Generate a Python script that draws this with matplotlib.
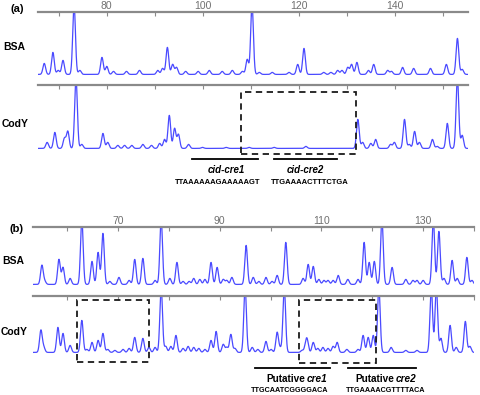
import numpy as np
import matplotlib.pyplot as plt
from matplotlib.patches import Rectangle
from matplotlib import transforms

plt.rcParams['font.family'] = ['Liberation Sans', 'DejaVu Sans']

# panel (a): peak positions (base number) and heights
a_bsa_pos = [67.0, 68.8, 69.9, 70.9, 73.2, 74.4, 79.0, 80.0, 81.4, 84.1, 86.8, 90.6, 91.6, 92.6,
             93.7, 94.5, 96.4, 99.0, 101.3, 104.0, 106.1, 108.2, 109.2, 110.2, 111.7, 114.4,
             117.9, 119.7, 121.0, 125.1, 126.6, 128.0, 128.9, 130.1, 130.9, 132.0, 134.4,
             135.5, 138.4, 139.2, 141.5, 143.8, 147.3, 150.6, 152.9, 153.9]
a_bsa_h = [11, 22, 4, 14, 70, 4, 17, 8, 3, 3, 4, 4, 6, 27,
           10, 7, 3, 3, 4, 3, 4, 3, 15, 70, 2, 2,
           2, 10, 26, 2, 2, 4, 4, 7, 10, 12, 4,
           10, 4, 3, 7, 6, 6, 10, 36, 5]

a_cody_pos = [67.6, 69.2, 71.2, 71.9, 73.6, 74.8, 79.2, 80.2, 82.3, 83.7, 85.2, 87.5, 89.3,
              91.0, 92.0, 93.0, 94.1, 94.9, 97.0, 99.9, 104.8, 109.6, 114.8, 121.4, 132.2,
              133.2, 134.9, 135.9, 139.0, 139.8, 141.9, 142.9, 144.0, 145.0, 147.7, 148.7,
              150.8, 152.9, 153.9]
a_cody_h = [6, 16, 10, 17, 70, 4, 15, 6, 3, 3, 3, 4, 3,
            5, 9, 33, 20, 14, 4, 1, 1, 1, 1, 2, 29,
            6, 5, 9, 4, 6, 29, 4, 17, 6, 9, 2,
            25, 70, 13]

# panel (b)
b_bsa_pos = [55.05, 55.6, 58.4, 59.2, 60.6, 62.9, 64.9, 66.1, 67.05, 68.4, 70.2, 72.2, 73.3,
             74.9, 77.3, 78.5, 80.2, 81.6, 82.8, 84.0, 84.9, 86.1, 87.1, 88.3, 89.5, 90.7,
             91.4, 92.4, 95.2, 96.6, 97.7, 99.1, 100.3, 101.3, 103.0, 106.4, 107.4, 108.4,
             109.5, 110.5, 111.3, 112.3, 113.3, 115.2, 117.2, 118.4, 119.4, 120.4, 121.9,
             123.9, 126.6, 128.0, 128.8, 130.0, 132.0, 133.1, 134.1, 135.7, 136.7, 138.6, 139.6]
b_bsa_h = [19, 3, 25, 17, 6, 65, 23, 32, 51, 3, 7, 4, 25,
           26, 4, 65, 6, 22, 3, 3, 6, 5, 5, 22, 17, 5,
           4, 7, 39, 7, 3, 7, 3, 9, 42, 6, 20, 18,
           5, 4, 4, 4, 9, 5, 5, 42, 22, 23, 65,
           17, 5, 4, 4, 4, 65, 53, 6, 24, 6, 27, 4]

b_cody_pos = [54.85, 55.4, 58.2, 59.2, 60.6, 62.9, 63.9, 64.9, 66.1, 67.05, 68.0, 69.4, 71.0,
              72.2, 73.3, 74.9, 76.1, 77.3, 78.5, 79.4, 80.4, 81.4, 82.8, 83.8, 84.9, 85.9,
              87.1, 88.3, 89.3, 90.7, 91.4, 92.2, 93.0, 95.0, 96.4, 97.5, 99.1, 100.1, 101.3,
              101.9, 102.7, 106.2, 106.9, 107.2, 108.4, 109.3, 110.3, 111.3, 112.3, 113.1,
              115.0, 117.2, 118.2, 119.2, 120.2, 121.3, 123.7, 126.6, 128.8, 131.6, 132.6,
              133.5, 135.3, 136.5, 138.3, 139.2]
b_cody_h = [22, 5, 25, 19, 7, 32, 3, 10, 12, 19, 3, 2, 3,
            4, 15, 14, 5, 5, 65, 6, 6, 17, 4, 6, 5, 4,
            3, 12, 21, 8, 5, 18, 4, 65, 5, 3, 11, 3, 20,
            4, 65, 2, 6, 11, 10, 4, 5, 4, 6, 10,
            3, 3, 17, 15, 17, 65, 5, 2, 2, 65, 65,
            14, 27, 5, 31, 6]

a_major = [80, 100, 120, 140]
a_minor = [70, 90, 110, 130, 150]
b_major = [70, 90, 110, 130]
b_minor = [60, 80, 100, 120, 140]

W, H = 480, 395
fig = plt.figure(figsize=(4.8, 3.95), dpi=100)


def rect(x0, y0, x1, y1):
    return [x0 / W, 1 - y1 / H, (x1 - x0) / W, (y1 - y0) / H]


def trace_ax(r, xlim, ylim, pos, hgt, major, minor, labels, sig):
    ax = fig.add_axes(r)
    ax.patch.set_alpha(0)
    x = np.linspace(xlim[0], xlim[1], 4000)
    y = np.full_like(x, 0.6)
    for p, h in zip(pos, hgt):
        y += h * np.exp(-0.5 * ((x - p) / sig) ** 2)
    ax.plot(x, y, color='#4a4aff', lw=0.9)
    ax.set_xlim(xlim)
    ax.set_ylim(ylim)
    for s in ['left', 'right', 'bottom']:
        ax.spines[s].set_visible(False)
    ax.spines['top'].set_color('#8a8a8a')
    ax.spines['top'].set_linewidth(1.6)
    ax.spines['top'].set_zorder(5)
    ax.xaxis.tick_top()
    ax.set_xticks(major)
    ax.set_xticks(minor, minor=True)
    ax.tick_params(which='both', direction='in', length=3, width=0.8, color='#8a8a8a',
                   labelsize=7.5, labelcolor='#707070', pad=1, labeltop=labels)
    ax.set_yticks([])
    return ax


ax1 = trace_ax(rect(38, 12, 468, 80), (65.7, 155.1), (-5, 63), a_bsa_pos, a_bsa_h,
               a_major, a_minor, True, 0.28)
ax2 = trace_ax(rect(38, 85, 468, 154), (65.7, 155.1), (-5, 64), a_cody_pos, a_cody_h,
               a_major, a_minor, False, 0.28)
ax3 = trace_ax(rect(33, 227, 474, 290), (53.3, 140.0), (-5, 58), b_bsa_pos, b_bsa_h,
               b_major, b_minor, True, 0.26)
ax4 = trace_ax(rect(33, 296, 474, 358), (53.3, 140.0), (-5, 57), b_cody_pos, b_cody_h,
               b_major, b_minor, False, 0.26)


def fy(py):
    return 1 - py / H


def box(ax, x0, x1, y0, y1):
    tr = transforms.blended_transform_factory(ax.transData, fig.transFigure)
    fig.patches.append(Rectangle((x0, fy(y1)), x1 - x0, fy(y0) - fy(y1), transform=tr,
                                 fill=False, ec='#1a1a1a', lw=1.3, ls=(0, (3.5, 2.5)), zorder=6))


def bar(ax, x0, x1, y):
    tr = transforms.blended_transform_factory(ax.transData, fig.transFigure)
    fig.lines.append(plt.Line2D([x0, x1], [fy(y), fy(y)], transform=tr, color='black', lw=1.3))


box(ax2, 107.9, 131.75, 92, 154)
box(ax4, 61.9, 76.1, 300, 362)
box(ax4, 105.6, 120.75, 300, 363)

bar(ax2, 97.8, 111.5, 159)
bar(ax2, 114.8, 127.8, 159)
bar(ax4, 96.9, 111.7, 368)
bar(ax4, 115.2, 128.6, 368)

bold = dict(fontweight='bold', ha='center', va='center')
fig.text(226 / W, fy(170), 'cid-cre1', fontsize=7, style='italic', **bold)
fig.text(218 / W, fy(182), 'TTAAAAAAGAAAAAGT', fontsize=5.5, **bold)
fig.text(305 / W, fy(170), 'cid-cre2', fontsize=7, style='italic', **bold)
fig.text(310 / W, fy(182), 'TTGAAAACTTTCTGA', fontsize=5.5, **bold)

# "Putative" upright + cre italic, split at a point
fig.text(305 / W, fy(379), 'Putative', fontsize=7.2, fontweight='bold', ha='right', va='center')
fig.text(307 / W, fy(379), 'cre1', fontsize=7.2, fontweight='bold', style='italic',
         ha='left', va='center')
fig.text(394 / W, fy(379), 'Putative', fontsize=7.2, fontweight='bold', ha='right', va='center')
fig.text(396 / W, fy(379), 'cre2', fontsize=7.2, fontweight='bold', style='italic',
         ha='left', va='center')
fig.text(290 / W, fy(391), 'TTGCAATCGGGGACA', fontsize=5.2, **bold)
fig.text(386 / W, fy(391), 'TTGAAAACGTTTTACA', fontsize=5.2, **bold)

fig.text(17 / W, fy(9), '(a)', fontsize=8, **bold)
fig.text(17 / W, fy(229), '(b)', fontsize=8, **bold)
fig.text(14 / W, fy(47), 'BSA', fontsize=7.5, **bold)
fig.text(15 / W, fy(124), 'CodY', fontsize=7.5, **bold)
fig.text(13 / W, fy(261), 'BSA', fontsize=7.5, **bold)
fig.text(14 / W, fy(332), 'CodY', fontsize=7.5, **bold)

fig.savefig('out.png', dpi=100)
